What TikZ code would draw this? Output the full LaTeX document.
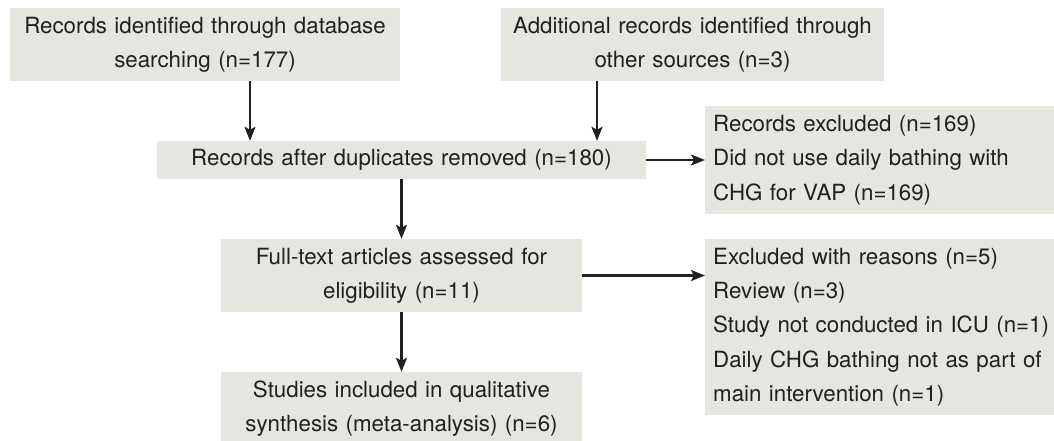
\documentclass[tikz,border=0pt]{standalone}
\usepackage{fontspec}
\setmainfont{TeX Gyre Heros}
\usepackage{tikz}
\usetikzlibrary{arrows.meta,positioning}
\definecolor{boxgray}{RGB}{228,230,223}
\definecolor{inkgray}{RGB}{35,31,32}

\begin{document}
\begin{tikzpicture}[x=1pt,y=1pt,
  box/.style={fill=boxgray,text=inkgray,inner xsep=8pt,inner ysep=0pt,
    font=\fontsize{22.3}{34.3}\selectfont},
  midbox/.style={box,align=center},
  sidebox/.style={box,align=left,anchor=west,text width=360pt,minimum height=#1},
  arr/.style={draw=inkgray,line width=2.2pt,-{Stealth[length=14pt,width=11pt,inset=3pt]}}]
\useasboundingbox (0,0) rectangle (1054,-440);
% identification
\node [midbox,text width=374pt,minimum height=73pt] (dbase) at (205,-44.5)
  {Records identified through database\\searching (n=177)};
\node [midbox,text width=367pt,minimum height=73pt] (other) at (692.5,-44.5)
  {Additional records identified through\\other sources (n=3)};
% screening
\node [midbox,text width=473pt,minimum height=38pt] (dedup) at (401.5,-160)
  {Records after duplicates removed (n=180)};
\node [sidebox=108pt] (excl) at (705,-160)
  {Records excluded (n=169)\\Did not use daily bathing with\\CHG for VAP (n=169)};
% eligibility
\node [midbox,text width=345pt,minimum height=73pt] (fulltext) at (401.5,-275.5)
  {Full-text articles assessed for\\eligibility (n=11)};
\node [sidebox=176pt] (reasons) at (705,-327)
  {Excluded with reasons (n=5)\\Review (n=3)\\Study not conducted in ICU (n=1)\\Daily CHG bathing not as part of\\main intervention (n=1)};
% included
\node [midbox,text width=345pt,minimum height=73pt] (incl) at (401.5,-408.5)
  {Studies included in qualitative\\synthesis (meta-analysis) (n=6)};
% arrows
\draw [arr] ([xshift=45pt]dbase.south) -- ([xshift=45pt]dbase.south |- dedup.north);
\draw [arr] ([xshift=-95.5pt]other.south) -- ([xshift=-95.5pt]other.south |- dedup.north);
\draw [arr] (dedup.east) -- (excl.west);
\draw [arr] (dedup.south) -- (fulltext.north);
\draw [arr] (fulltext.east) -- (fulltext.east -| reasons.west);
\draw [arr] (fulltext.south) -- (incl.north);
\end{tikzpicture}
\end{document}
